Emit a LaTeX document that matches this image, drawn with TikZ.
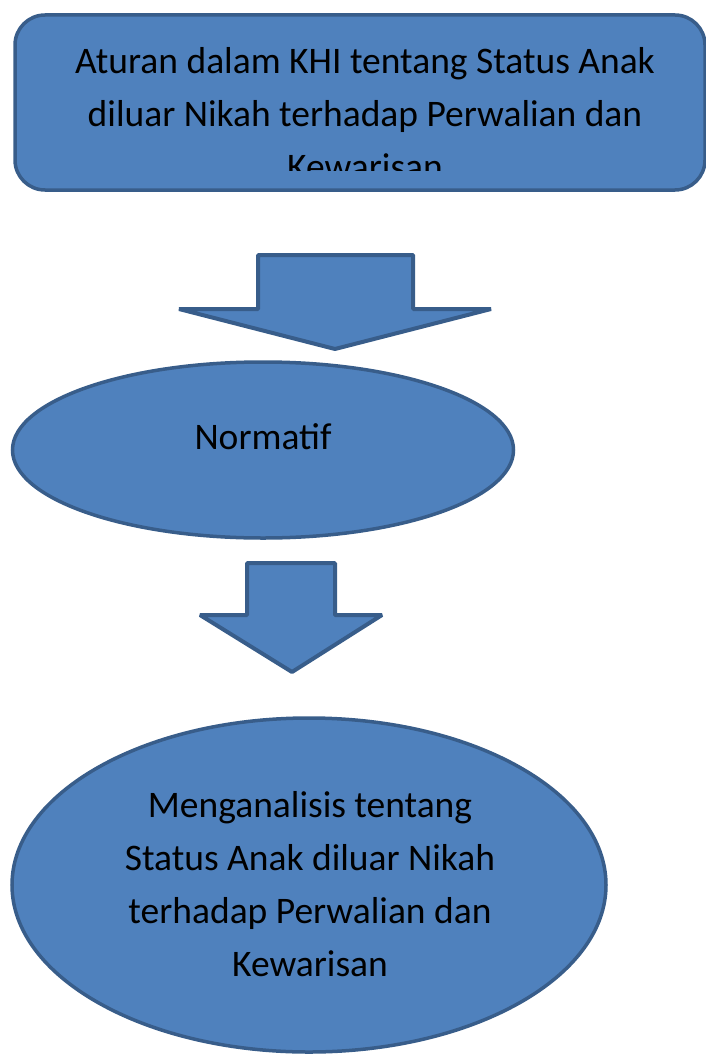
\documentclass[tikz,border=0pt]{standalone}
\usepackage{fontspec}
\setmainfont{Carlito}
\usetikzlibrary{shapes.geometric}
\definecolor{isibiru}{HTML}{4F81BD}
\definecolor{garisbiru}{HTML}{385D8A}
\tikzset{
  blok/.style={fill=isibiru, draw=garisbiru, line width=3.5pt},
  panah/.style={fill=isibiru, draw=garisbiru, line width=4pt, line join=bevel},
  teks/.style={align=center, font=\fontsize{37.5}{53}\selectfont, text=black},
}
\begin{document}
\begin{tikzpicture}[x=1pt, y=-1pt]
  \useasboundingbox (0,0) rectangle (706,1054);
  % kotak atas
  \node[blok, rounded corners=30pt, minimum width=690pt, minimum height=175pt, inner sep=0] (aturan) at (360,102.5) {};
  \begin{scope}
    \clip (15,15) rectangle (706,170);
    \node[teks] (judul) at (365,114) {Aturan dalam KHI tentang Status Anak\\diluar Nikah terhadap Perwalian dan\\Kewarisan};
  \end{scope}
  % panah pertama
  \draw[panah] (258,255) -- (413,255) -- (413,309) -- (491,309) -- (335,349) -- (179,309) -- (258,309) -- cycle;
  % elips normatif
  \node[blok, ellipse, minimum width=501pt, minimum height=176pt, inner sep=0] (normatif) at (263,450) {};
  \node[teks] (normatiftxt) at (263,437) {Normatif};
  % panah kedua
  \draw[panah] (247,563) -- (335,563) -- (335,615) -- (382,615) -- (292,672) -- (200,615) -- (247,615) -- cycle;
  % elips analisis
  \node[blok, ellipse, minimum width=594pt, minimum height=334pt, inner sep=0] (analisis) at (309,885) {};
  \node[teks] (analisistxt) at (310,884) {Menganalisis tentang\\Status Anak diluar Nikah\\terhadap Perwalian dan\\Kewarisan};
\end{tikzpicture}
\end{document}
